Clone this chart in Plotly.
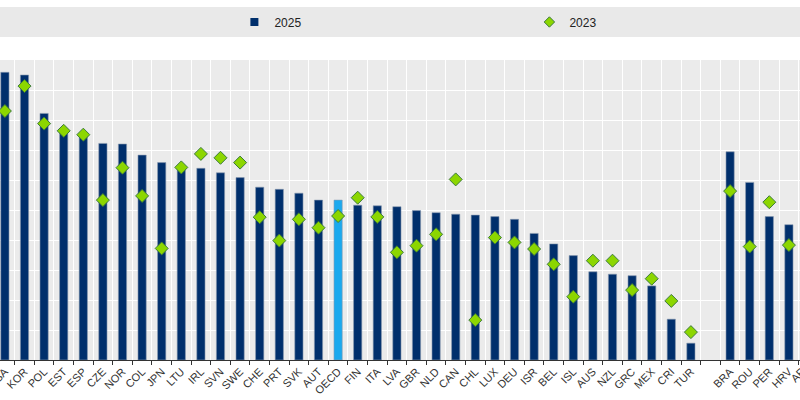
import plotly.graph_objects as go

categories = ["USA", "KOR", "POL", "EST", "ESP", "CZE", "NOR", "COL", "JPN", "LTU",
              "IRL", "SVN", "SWE", "CHE", "PRT", "SVK", "AUT", "OECD", "FIN", "ITA",
              "LVA", "GBR", "NLD", "CAN", "CHL", "LUX", "DEU", "ISR", "BEL", "ISL",
              "AUS", "NZL", "GRC", "MEX", "CRI", "TUR", " ", "BRA", "ROU", "PER",
              "HRV", "ARG"]

values_2025 = [95.9, 95.0, 82.2, 76.8, 75.5, 72.2, 72.0, 68.3, 65.8, 64.6,
               63.9, 62.4, 60.8, 57.6, 56.9, 55.6, 53.3, 53.3, 51.6, 51.4,
               51.1, 49.8, 49.1, 48.6, 48.3, 47.8, 46.9, 42.2, 38.7, 34.8,
               29.4, 28.6, 28.1, 24.7, 13.6, 5.6, None, 69.4, 59.2, 47.8,
               45.1, 40.0]

values_2023 = [83.0, 91.3, 78.8, 76.4, 75.1, 53.3, 64.1, 54.7, 37.2, 64.2,
               68.7, 67.4, 65.8, 47.6, 39.8, 46.9, 44.1, 48.0, 54.1, 47.7,
               35.9, 38.1, 41.9, 60.2, 13.3, 40.8, 39.2, 37.0, 31.9, 21.1,
               33.1, 33.1, 23.3, 27.1, 19.7, 9.3, None, 56.3, 37.8, 52.6,
               38.3, 35.0]

NAVY = "#002F6C"
HIGHLIGHT = "#1BA9EE"
LIME = "#8CD600"
DARKGREEN = "#3C7A3C"

bar_colors = [HIGHLIGHT if c == "OECD" else NAVY for c in categories]

x_range = [-0.25, 40.566]

fig = go.Figure()
fig.add_trace(go.Bar(
    x=categories, y=values_2025, name="2025", showlegend=False,
    marker=dict(color=bar_colors, line=dict(color="#8a9ab0", width=0.6)),
    width=0.42,
))
fig.add_trace(go.Scatter(
    x=categories, y=values_2023, name="2023", mode="markers", showlegend=False,
    marker=dict(symbol="diamond", size=10, color=LIME,
                line=dict(color=DARKGREEN, width=1)),
))
# legend entries
fig.add_trace(go.Scatter(
    x=[None], y=[None], name="2025", mode="markers",
    marker=dict(symbol="square", size=8, color=NAVY),
))
fig.add_trace(go.Scatter(
    x=[None], y=[None], name="2023", mode="markers",
    marker=dict(symbol="diamond", size=8, color=LIME, line=dict(color=DARKGREEN, width=1)),
))

# label for the last (cut-off) category
last_idx = len(categories) - 1
frac = (last_idx - x_range[0]) / (x_range[1] - x_range[0])
plot_w = 800
label_w = 22
ann_x = frac - (label_w / 2 * 0.7071) / plot_w
ann_y = -(4 + label_w / 2 * 0.7071) / 300

fig.update_layout(
    width=800, height=400,
    margin=dict(l=0, r=0, t=60, b=40, autoexpand=False),
    paper_bgcolor="white",
    plot_bgcolor="#EBEBEB",
    font=dict(family="Arial, Liberation Sans, sans-serif", size=11, color="#333333"),
    showlegend=True,
    legend=dict(
        orientation="h", x=0.293, xanchor="left", y=1.1267, yanchor="middle",
        bgcolor="rgba(0,0,0,0)", font=dict(size=12, color="#222222"),
        entrywidth=250, entrywidthmode="pixels", itemwidth=30,
        traceorder="normal",
    ),
    shapes=[dict(type="rect", xref="paper", yref="paper",
                 x0=0, x1=1, y0=1.0767, y1=1.1767,
                 fillcolor="#E9E9E9", line=dict(width=0), layer="below")],
    annotations=[dict(text=categories[last_idx], xref="paper", yref="paper",
                      x=ann_x, y=ann_y, textangle=-45, showarrow=False,
                      xanchor="center", yanchor="middle",
                      font=dict(size=11, color="#333333"))],
)
fig.update_xaxes(
    type="category", categoryorder="array", categoryarray=categories,
    range=x_range, tickson="boundaries", ticks="outside", ticklen=4,
    tickcolor="#333333", showline=True, linecolor="#333333", linewidth=1,
    tickangle=-45, showgrid=True, gridcolor="white", gridwidth=1,
    automargin=False, fixedrange=True,
)
fig.update_yaxes(
    range=[0, 100], dtick=10, showticklabels=False, showgrid=True,
    gridcolor="white", gridwidth=1, zeroline=False, automargin=False,
    ticks="", fixedrange=True,
)

fig.write_html("out.html", config={"displayModeBar": False},
               post_script="document.body.style.margin='0';document.body.style.overflow='hidden';")
